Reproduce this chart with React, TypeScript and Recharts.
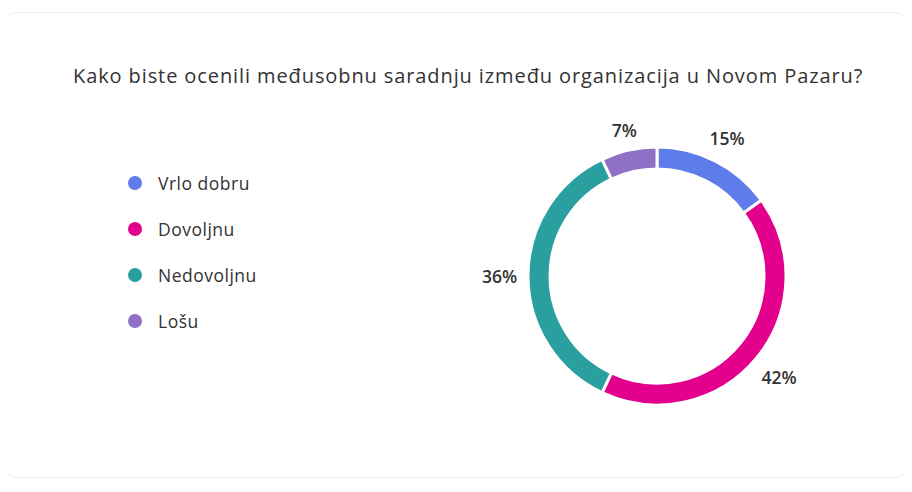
import { PieChart, Pie, Cell } from "recharts";

const categories = ["Vrlo dobru", "Dovoljnu", "Nedovoljnu", "Lošu"];
const shares = [15, 42, 36, 7];
const colors = ["#5F7CEB", "#E3008C", "#2A9FA0", "#8F70C4"];

const data = categories.map((name, i) => ({ name, value: shares[i] }));

const RAD = Math.PI / 180;

// label box is pushed out so its nearest edge sits just off the ring
const renderLabel = (props: any) => {
    const { cx, cy, midAngle, outerRadius, value } = props;
    const text = `${value}%`;
    const hw = (String(value).length * 11 + 15) / 2;
    const hh = 8;
    const cos = Math.cos(-midAngle * RAD);
    const sin = Math.sin(-midAngle * RAD);
    const r = outerRadius + 10 + hw * Math.abs(cos) + hh * Math.abs(sin);
    return (
        <text
            x={cx + r * cos}
            y={cy + r * sin}
            textAnchor="middle"
            dominantBaseline="central"
            fill="#333"
            fontSize={17.5}
            fontWeight={600}
            fontFamily="'Open Sans', sans-serif"
        >
            {text}
        </text>
    );
};

export default function App() {
    return (
        <div
            style={{
                position: "relative",
                width: 912,
                height: 492,
                margin: -8,
                background: "#fff",
                fontFamily: "'Open Sans', sans-serif",
                overflow: "hidden",
            }}
        >
            <div
                style={{
                    position: "absolute",
                    left: 6,
                    top: 12,
                    width: 900,
                    height: 466,
                    border: "1px solid #ececec",
                    borderRadius: 10,
                    boxSizing: "border-box",
                }}
            />
            <div
                style={{
                    position: "absolute",
                    left: 73,
                    top: 62,
                    whiteSpace: "nowrap",
                    fontSize: 20,
                    letterSpacing: 0.9,
                    color: "#333",
                }}
            >
                Kako biste ocenili međusobnu saradnju između organizacija u Novom Pazaru?
            </div>
            <div style={{ position: "absolute", left: 128, top: 160 }}>
                {data.map((d, i) => (
                    <div
                        key={d.name}
                        style={{ display: "flex", alignItems: "center", height: 46 }}
                    >
                        <span
                            style={{
                                width: 14,
                                height: 14,
                                borderRadius: 7,
                                background: colors[i],
                                marginRight: 16,
                            }}
                        />
                        <span style={{ fontSize: 17.5, letterSpacing: 0.5, color: "#333" }}>
                            {d.name}
                        </span>
                    </div>
                ))}
            </div>
            <div style={{ position: "absolute", left: 0, top: 0 }}>
                <PieChart width={912} height={492} margin={{ top: 0, right: 0, bottom: 0, left: 0 }}>
                    <Pie
                        data={data}
                        dataKey="value"
                        nameKey="name"
                        cx={657}
                        cy={276}
                        innerRadius={107}
                        outerRadius={129}
                        startAngle={90}
                        endAngle={-270}
                        stroke="#fff"
                        strokeWidth={3}
                        label={renderLabel}
                        labelLine={false}
                        isAnimationActive={false}
                    >
                        {data.map((d, i) => (
                            <Cell key={d.name} fill={colors[i]} />
                        ))}
                    </Pie>
                </PieChart>
            </div>
        </div>
    );
}
